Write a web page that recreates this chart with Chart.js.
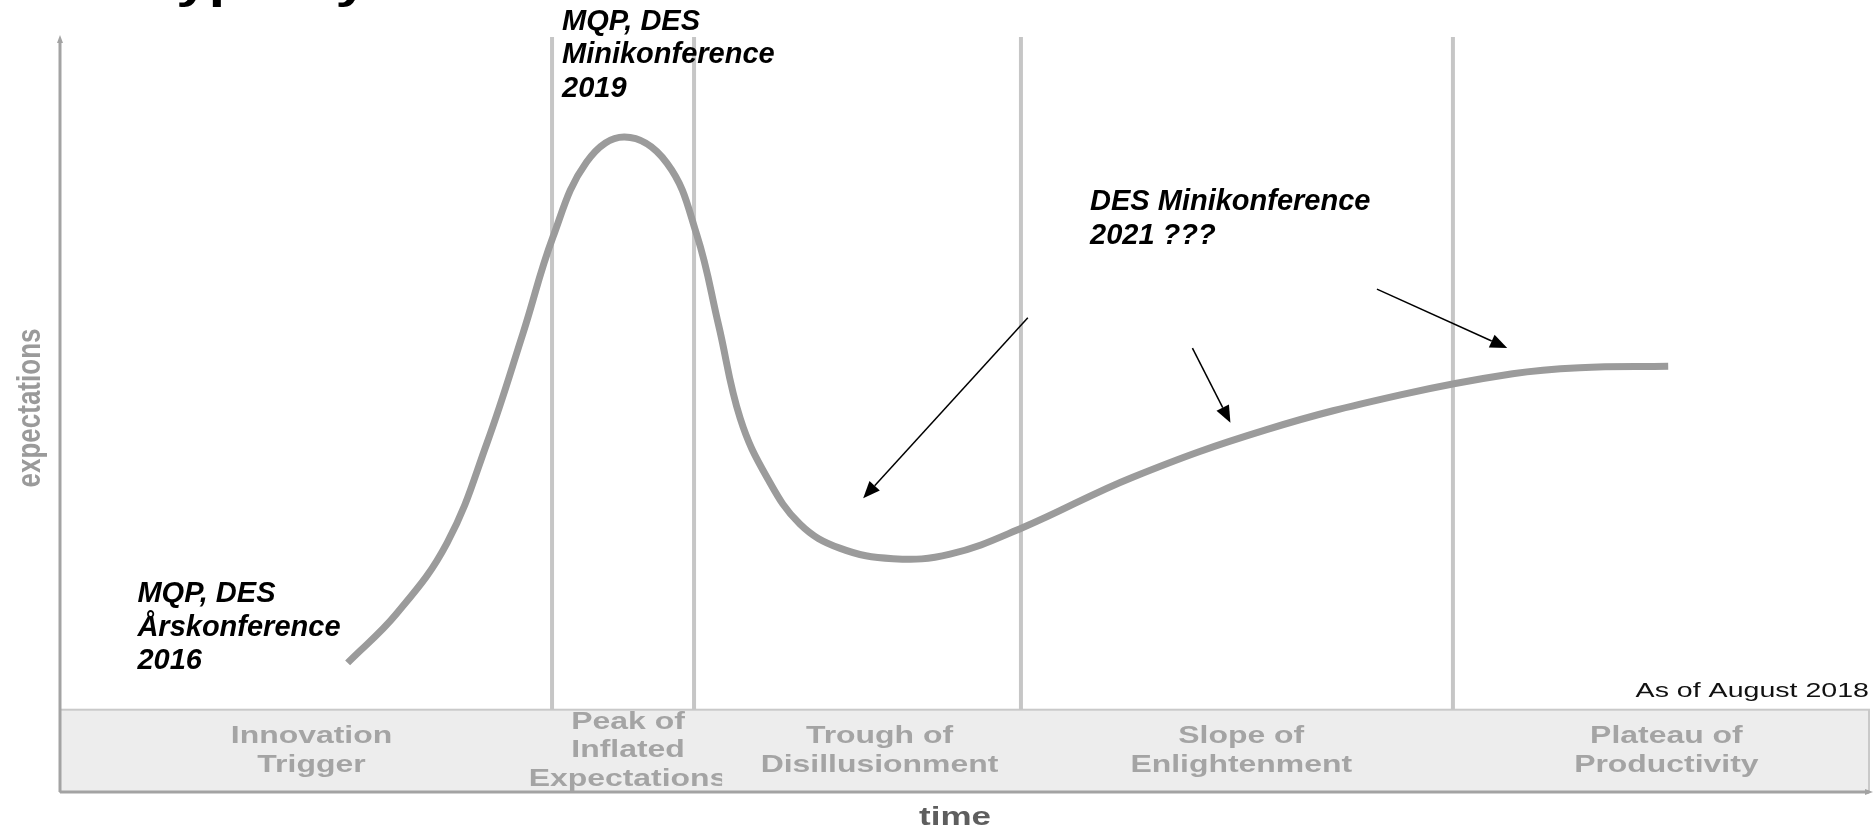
<!DOCTYPE html>
<html>
<head>
<meta charset="utf-8">
<title>Hype Cycle</title>
<script src="https://cdn.jsdelivr.net/npm/chart.js@4.4.1/dist/chart.umd.min.js"></script>
<style>
  html, body { margin: 0; padding: 0; background: #fff; }
  canvas { display: block; }
</style>
</head>
<body>
<canvas id="hype" width="1875" height="829"></canvas>
<script>
/* data: time (0-100) vs expectations (0-100) */
const curveX = [15.9, 18.6, 21.4, 23.6, 25.6, 27.25, 29.1, 31.2, 33.55, 35.2, 36.4, 37.6,
                39.1, 40.9, 43.1, 46.05, 49.2, 53.2, 59.3, 66.7, 74.1, 80.3, 84.0, 88.9];
const curveY = [17.1, 23.6, 33.0, 46.2, 60.8, 73.5, 83.4, 86.75, 83.3, 73.8, 61.9, 49.5,
                41.6, 35.5, 32.3, 30.9, 31.5, 35.0, 41.7, 48.0, 52.6, 55.4, 56.2, 56.4];

const phaseNames = [
  ['Innovation', 'Trigger'],
  ['Peak of', 'Inflated', 'Expectations'],
  ['Trough of', 'Disillusionment'],
  ['Slope of', 'Enlightenment'],
  ['Plateau of', 'Productivity'],
];
const phaseEdges = [27.2, 35.05, 53.12, 77.0];
const phaseLabelX = [13.9, 31.4, 45.3, 65.3, 88.8];
const bandTop = 10.9;

const noteLines = [
  ['MQP, DES', 'Minikonference', '2019'],
  ['MQP, DES', 'Årskonference', '2016'],
  ['DES Minikonference', '2021 ???'],
];
const noteX = [27.75, 4.28, 56.94];
const noteY = [102.05, 26.23, 78.15];

const arrowFrom = [[53.5, 62.8], [62.6, 58.8], [72.8, 66.6]];
const arrowTo   = [[44.4, 38.9], [64.7, 48.9], [80.0, 58.8]];

const FONT = '"Liberation Sans", Arial, sans-serif';
const STRETCH = 1.33;   // text in the base picture is stretched sideways

function wideText(ctx, txt, x, y, align, sx) {
  ctx.save();
  ctx.translate(x, y);
  ctx.scale(sx, 1);
  ctx.textAlign = align;
  ctx.fillText(txt, 0, 0);
  ctx.restore();
}

function arrow(ctx, x1, y1, x2, y2) {
  const ang = Math.atan2(y2 - y1, x2 - x1);
  const len = 17, half = 7;
  const bx = x2 - len * Math.cos(ang), by = y2 - len * Math.sin(ang);
  ctx.beginPath();
  ctx.moveTo(x1, y1);
  ctx.lineTo(bx, by);
  ctx.stroke();
  ctx.beginPath();
  ctx.moveTo(x2, y2);
  ctx.lineTo(bx + half * Math.sin(ang), by - half * Math.cos(ang));
  ctx.lineTo(bx - half * Math.sin(ang), by + half * Math.cos(ang));
  ctx.closePath();
  ctx.fill();
}

const hypeDecor = {
  id: 'hypeDecor',
  beforeDatasetsDraw(chart) {
    const {ctx, chartArea: a, scales: {x, y}} = chart;
    const yBand = y.getPixelForValue(bandTop);
    ctx.save();

    // title, cut off by the top edge (only descenders show)
    ctx.fillStyle = '#000';
    ctx.font = 'bold 44px ' + FONT;
    ctx.textBaseline = 'alphabetic';
    wideText(ctx, 'Hype Cycle', 134, -2, 'left', STRETCH);

    // phase band
    ctx.fillStyle = '#ededed';
    ctx.fillRect(a.left, yBand, a.right - a.left, a.bottom - yBand);
    ctx.strokeStyle = '#c9c9c9';
    ctx.lineWidth = 2;
    ctx.strokeRect(a.left, yBand, a.right - a.left, a.bottom - yBand);

    // phase separators
    ctx.strokeStyle = '#c6c6c6';
    ctx.lineWidth = 4;
    phaseEdges.forEach(v => {
      const px = x.getPixelForValue(v);
      ctx.beginPath();
      ctx.moveTo(px, a.top);
      ctx.lineTo(px, yBand);
      ctx.stroke();
    });

    // axes
    ctx.strokeStyle = '#a3a3a3';
    ctx.fillStyle = '#a3a3a3';
    ctx.lineWidth = 3;
    ctx.beginPath();
    ctx.moveTo(a.left, a.bottom);
    ctx.lineTo(a.left, a.top + 4);
    ctx.moveTo(a.left, a.bottom);
    ctx.lineTo(a.right, a.bottom);
    ctx.stroke();
    ctx.beginPath();
    ctx.moveTo(a.left, a.top - 2);
    ctx.lineTo(a.left - 3, a.top + 6);
    ctx.lineTo(a.left + 3, a.top + 6);
    ctx.fill();
    ctx.beginPath();
    ctx.moveTo(a.right + 4, a.bottom);
    ctx.lineTo(a.right - 4, a.bottom - 3);
    ctx.lineTo(a.right - 4, a.bottom + 3);
    ctx.fill();

    // phase labels
    ctx.fillStyle = '#a4a4a4';
    ctx.font = 'bold 24px ' + FONT;
    ctx.textBaseline = 'middle';
    const mid = (yBand + a.bottom) / 2;
    const lh = 28.5;
    phaseNames.forEach((lines, i) => {
      const cx = x.getPixelForValue(phaseLabelX[i]);
      ctx.save();
      if (i === 1) {
        ctx.beginPath();
        ctx.rect(a.left, yBand, x.getPixelForValue(36.6) - a.left, a.bottom - yBand);
        ctx.clip();
      }
      lines.forEach((t, j) => {
        const ty = mid + (j - (lines.length - 1) / 2) * lh;
        wideText(ctx, t, cx, ty, 'center', STRETCH);
      });
      ctx.restore();
    });

    // axis titles
    ctx.fillStyle = '#9a9a9a';
    ctx.font = 'bold 26px ' + FONT;
    ctx.save();
    ctx.translate(31, 408);
    ctx.rotate(-Math.PI / 2);
    ctx.scale(1, 1.3);
    ctx.textAlign = 'center';
    ctx.fillText('expectations', 0, 0);
    ctx.restore();

    ctx.fillStyle = '#5e5e5e';
    ctx.font = 'bold 25px ' + FONT;
    ctx.textBaseline = 'alphabetic';
    wideText(ctx, 'time', 955, 825, 'center', 1.4);

    // date note
    ctx.fillStyle = '#111';
    ctx.font = '21px ' + FONT;
    ctx.textBaseline = 'middle';
    wideText(ctx, 'As of August 2018', a.right, 691, 'right', 1.36);

    ctx.restore();
  },
  afterDatasetsDraw(chart) {
    const {ctx, scales: {x, y}} = chart;
    ctx.save();
    ctx.fillStyle = '#000';
    ctx.strokeStyle = '#000';
    ctx.lineWidth = 1.5;
    arrowFrom.forEach((f, i) => {
      const t = arrowTo[i];
      arrow(ctx, x.getPixelForValue(f[0]), y.getPixelForValue(f[1]),
                 x.getPixelForValue(t[0]), y.getPixelForValue(t[1]));
    });

    ctx.font = 'italic bold 29px ' + FONT;
    ctx.textBaseline = 'middle';
    ctx.textAlign = 'left';
    noteLines.forEach((lines, i) => {
      const px = x.getPixelForValue(noteX[i]);
      const py = y.getPixelForValue(noteY[i]);
      lines.forEach((t, j) => ctx.fillText(t, px, py + j * 33.7));
    });
    ctx.restore();
  }
};

const curvePoints = curveX.map((v, i) => ({x: v, y: curveY[i]}));

new Chart(document.getElementById('hype'), {
  type: 'scatter',
  data: {
    datasets: [{
      label: 'expectations',
      data: curvePoints,
      showLine: true,
      borderColor: '#9b9b9b',
      borderWidth: 7,
      borderCapStyle: 'butt',
      tension: 0.4,
      pointRadius: 0,
      pointHoverRadius: 0,
      fill: false,
    }],
  },
  options: {
    responsive: false,
    animation: false,
    layout: { padding: { left: 60, right: 6, top: 37, bottom: 37 } },
    scales: {
      x: { type: 'linear', min: 0, max: 100, display: false },
      y: { type: 'linear', min: 0, max: 100, display: false },
    },
    plugins: {
      legend: { display: false },
      tooltip: { enabled: false },
    },
  },
  plugins: [hypeDecor],
});
</script>
</body>
</html>
